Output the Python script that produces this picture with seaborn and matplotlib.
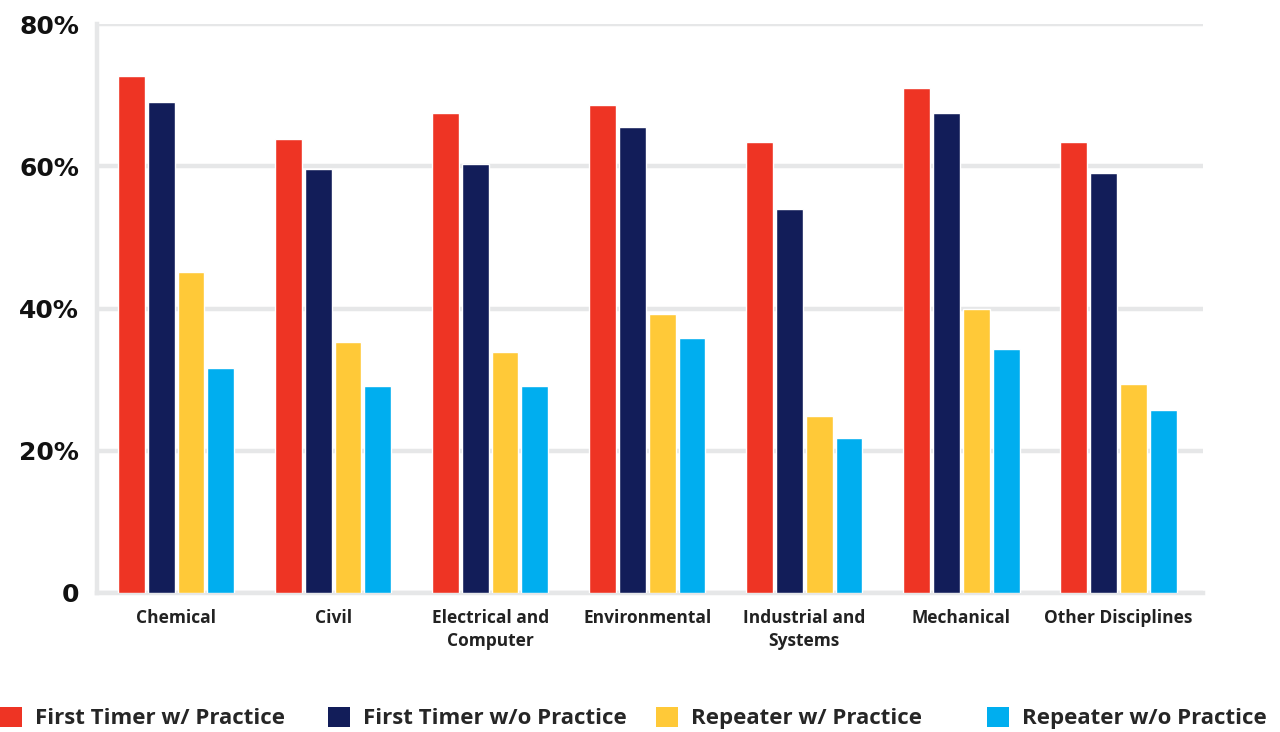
import pandas as pd
import matplotlib.pyplot as plt
import seaborn as sns
from matplotlib.patches import Patch

# values (percent)
disciplines = ["Chemical", "Civil", "Electrical and\nComputer", "Environmental",
               "Industrial and\nSystems", "Mechanical", "Other Disciplines"]
groups = ["First Timer w/ Practice", "First Timer w/o Practice",
          "Repeater w/ Practice", "Repeater w/o Practice"]
first_w = [72.7, 63.9, 67.5, 68.6, 63.4, 71.0, 63.4]
first_wo = [69.0, 59.6, 60.3, 65.5, 54.0, 67.5, 59.0]
rep_w = [45.1, 35.3, 33.9, 39.2, 24.9, 39.9, 29.4]
rep_wo = [31.6, 29.1, 29.1, 35.8, 21.8, 34.3, 25.7]
colors = ["#EE3424", "#121D59", "#FFC938", "#00AEEF"]

# long format table for seaborn
rows = []
for g, vals in zip(groups, [first_w, first_wo, rep_w, rep_wo]):
    for d, v in zip(disciplines, vals):
        rows.append({"discipline": d, "group": g, "pct": v})
df = pd.DataFrame(rows)

sns.set_style("white")
plt.rcParams["font.family"] = ["Open Sans", "DejaVu Sans"]

fig = plt.figure(figsize=(12.8, 7.32), dpi=100)
ax = fig.add_axes([0.0758, 0.19, 0.8642, 0.777])

sns.barplot(data=df, x="discipline", y="pct", hue="group", order=disciplines,
            hue_order=groups, palette=colors, width=0.76, gap=0.1,
            saturation=1, legend=False, ax=ax, zorder=3)

grid_col = "#E6E7E8"
ax.set_ylim(0, 80)
ax.set_xlim(-0.503, 6.54)
ax.set_yticks([0, 20, 40, 60, 80])
ax.set_yticklabels(["0", "20%", "40%", "60%", "80%"], family="DejaVu Sans",
                   fontsize=18, fontweight="bold")
for lab in ax.get_xticklabels():
    lab.set_fontsize(12.5)
    lab.set_fontweight("bold")
    lab.set_color("#222222")
    lab.set_linespacing(1.35)
ax.tick_params(axis="y", length=0, pad=13, colors="#111111")
ax.tick_params(axis="x", length=0, pad=11.5)
ax.yaxis.grid(True, color=grid_col, linewidth=3.2, zorder=0)
ax.set_axisbelow(True)
for s in ["top", "right"]:
    ax.spines[s].set_visible(False)
for s in ["left", "bottom"]:
    ax.spines[s].set_color(grid_col)
    ax.spines[s].set_linewidth(3.2)
    ax.spines[s].set_zorder(1)
ax.set_xlabel("")
ax.set_ylabel("")

# legend: one entry per box so the columns sit where they do in the reference
xpos = [0.0, 0.2562, 0.5125, 0.771]
for g, c, x in zip(groups, colors, xpos):
    fig.legend(handles=[Patch(facecolor=c, edgecolor="none")], labels=[g],
               loc="center left", bbox_to_anchor=(x, 0.019), frameon=False,
               prop={"family": "Open Sans", "weight": "bold", "size": 16},
               handlelength=1.0, handleheight=1.0, handletextpad=0.58,
               borderaxespad=0, borderpad=0)

fig.savefig("out.png", dpi=100)
